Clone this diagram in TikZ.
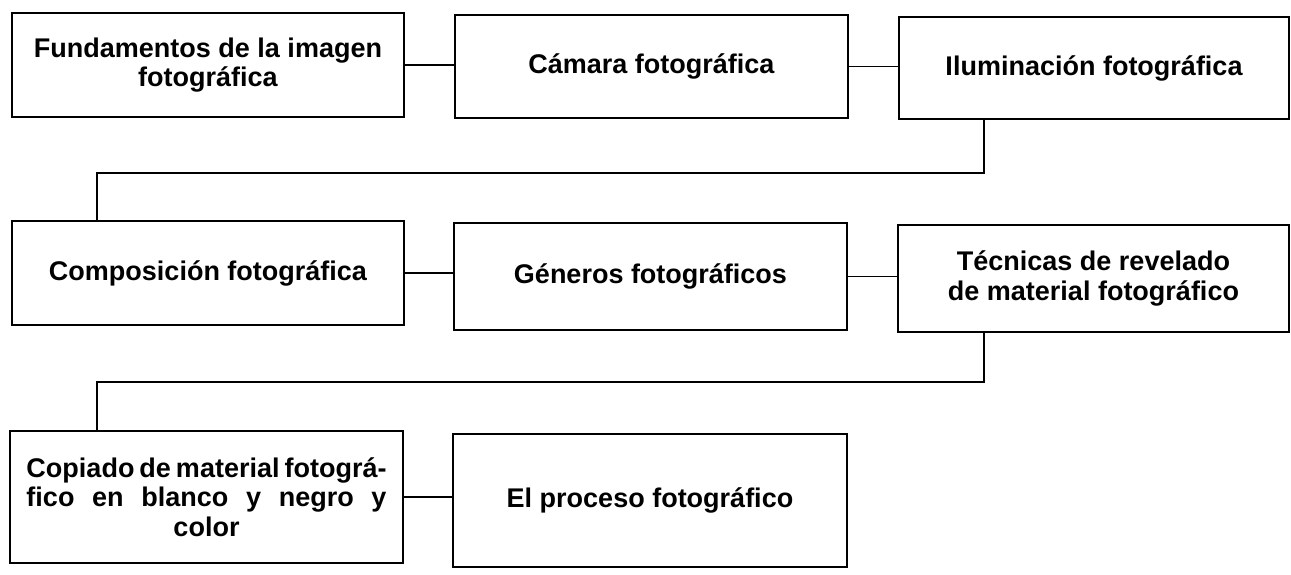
\documentclass[tikz,border=0pt]{standalone}
\usepackage{fontspec}
\setmainfont{Liberation Sans}
\begin{document}
\begin{tikzpicture}[x=1pt,y=-1pt,
  stage/.style={draw, line width=1.6pt, inner sep=0pt, align=center,
    font=\bfseries\fontsize{27}{29.5}\selectfont},
  link/.style={line width=1.6pt}]
\useasboundingbox (0,0) rectangle (1291,574);
\node[stage, minimum width=392pt, minimum height=104pt] (b1) at (208,65) {Fundamentos de la imagen\\fotográfica};
\node[stage, minimum width=393pt, minimum height=103pt] (b2) at (651.5,66.5) {Cámara fotográfica};
\node[stage, minimum width=390pt, minimum height=102pt] (b3) at (1094,68) {Iluminación fotográfica};
\node[stage, minimum width=392pt, minimum height=104pt] (b4) at (208,273) {Composición fotográfica};
\node[stage, minimum width=393pt, minimum height=107pt] (b5) at (650.5,276.5) {Géneros fotográficos};
\node[stage, minimum width=391pt, minimum height=107pt] (b6) at (1093.5,278.5) {Técnicas de revelado\\de material fotográfico};
\node[stage, minimum width=393pt, minimum height=132pt] (b7) at (206.5,497) {\makebox[360pt][s]{Copiado de material fotográ-}\\\makebox[360pt][s]{fico en blanco y negro y}\\color};
\node[stage, minimum width=394pt, minimum height=133pt] (b8) at (650,500.5) {El proceso fotográfico};
\coordinate (r1) at (984,173);
\coordinate (l1) at (97,173);
\coordinate (r2) at (984,382);
\coordinate (l2) at (97,382);
\draw[link] (b1.east) -- (b1.east -| b2.west);
\draw[link] (b2.east) -- (b2.east -| b3.west);
\draw[link] (r1 |- b3.south) -- (r1) -- (l1) -- (l1 |- b4.north);
\draw[link] (b4.east) -- (b4.east -| b5.west);
\draw[link] (b5.east) -- (b5.east -| b6.west);
\draw[link] (r2 |- b6.south) -- (r2) -- (l2) -- (l2 |- b7.north);
\draw[link] (b7.east) -- (b7.east -| b8.west);
\end{tikzpicture}
\end{document}
